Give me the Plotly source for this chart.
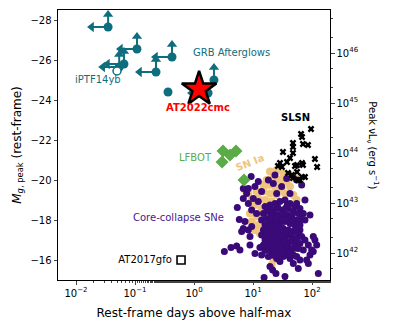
import math
import plotly.graph_objects as go

# ---- data ----
# GRB afterglows: rest-frame days, peak g mag, limit flags
grb_t = [0.035, 0.108, 0.065, 0.054, 0.227, 0.424, 0.363, 2.18, 1.73]
grb_m = [-27.65, -26.55, -25.8, -25.65, -25.4, -26.15, -24.4, -25.0, -24.35]
grb_tlim = [True, True, True, True, True, True, False, False, True]
grb_mlim = [True, True, True, True, True, True, False, True, False]

iptf_t = [0.0496]
iptf_m = [-25.45]

cmc_t = [1.22]
cmc_m = [-24.55]

gfo_t = [0.603]
gfo_m = [-16.0]

lfbot_t = [3.1, 4.07, 5.15, 2.99, 7.03]
lfbot_m = [-21.45, -21.25, -21.45, -20.9, -20.0]

slsn_t = [96.2, 65.2, 67.8, 70.3, 85.5, 47.6, 47.6, 32.2, 47.6, 42.4, 37.7, 28.7, 31.0, 67.8,
          70.3, 51.5, 112, 122, 45.8, 47.6, 57.9, 67.8, 55.7, 39.2, 26.5, 62.7, 76.0, 55.7]
slsn_m = [-22.55, -22.3, -22.15, -21.8, -21.75, -21.85, -21.65, -21.4, -21.35, -21.1, -20.9,
          -20.85, -20.65, -20.85, -20.75, -20.7, -21.05, -20.65, -20.25, -20.1, -20.0, -20.15,
          -20.4, -20.35, -20.7, -20.0, -20.15, -20.75]

snia_t = [19.4, 25.2, 32.6, 42.4, 51.5, 22.1, 28.6, 37.2, 18.2, 23.6, 30.6, 42.4, 15.0, 19.4,
          25.2, 34.8, 48.2, 12.3, 16.0, 20.7, 54.9, 10.8, 14.0, 54.9, 8.89, 11.5, 9.49, 12.3,
          10.8, 13.1, 16.0, 8.33, 7.31, 11.5, 9.49, 20.7, 22.1, 45.2, 51.5, 17.0, 25.2, 15.0]
snia_m = [-20.42, -20.5, -20.33, -20.25, -20.08, -20.08, -20.0, -19.92, -19.75, -19.67, -19.58,
          -19.67, -19.42, -19.33, -19.25, -19.33, -19.25, -19.08, -19.0, -18.92, -19.0, -18.75,
          -18.58, -18.5, -18.33, -18.17, -17.92, -17.75, -17.5, -17.33, -17.17, -19.33, -19.5,
          -19.42, -19.0, -15.75, -16.0, -17.58, -16.58, -20.0, -19.42, -19.75]

ccsn_t = [
    # scattered
    9.3, 6.85, 10.8, 7.8, 14.0, 18.2, 23.6, 37.2, 54.9, 66.8, 42.4, 30.6, 25.2, 22.1, 12.3,
    8.33, 10.1, 6.85, 8.33, 12.3, 9.49, 11.5, 6.85, 8.33, 6.42, 7.31, 9.49, 5.42, 5.86, 8.89,
    3.27, 4.24, 5.28, 6.01, 8.89, 10.8, 13.1, 16.0, 20.7, 19.4, 21.5, 24.5, 15.4, 34.8, 58.6,
    42.4, 39.7, 54.9, 62.5, 81.1, 92.4, 105, 112, 105, 120, 128, 86.6, 76.0, 62.5, 76.0, 71.2,
    92.4, 54.9, 76.0, 98.6, 71.2, 48.2, 28.6, 25.2, 18.2, 14.0, 48.2, 86.6,
    # dense core
    16.0, 19.4, 23.6, 28.6, 34.8, 42.4, 51.5, 62.5,
    15.0, 18.2, 22.1, 26.9, 32.6, 39.7, 48.2, 58.6, 66.8,
    14.0, 17.0, 20.7, 25.2, 30.6, 37.2, 45.2, 54.9,
    16.0, 19.4, 23.6, 28.6, 34.8, 42.4, 51.5, 62.5,
    15.0, 18.2, 22.1, 26.9, 32.6, 39.7, 48.2, 58.6,
    14.0, 17.0, 20.7, 25.2, 30.6, 37.2, 45.2, 54.9, 66.8,
    16.0, 19.4, 23.6, 28.6, 34.8, 42.4, 51.5, 62.5,
    15.0, 18.2, 22.1, 26.9, 32.6, 39.7, 48.2, 58.6,
    19.4, 23.6, 28.6, 34.8, 42.4, 26.9, 32.6, 22.1,
    17.5, 25.8, 38.2, 21.2, 31.4, 46.4, 18.7, 27.5, 40.7, 60.1, 17.5, 25.8, 38.2, 52.8,
    21.2, 31.4, 46.4, 17.5, 25.8, 38.2, 21.2, 31.4, 38.2,
    20.0, 24.0, 29.5, 35.5, 27.0, 33.0, 21.5, 30.0, 36.0, 44.0, 24.5, 29.0, 34.0, 41.0,
]
ccsn_m = [
    -20.17, -19.58, -19.67, -19.33, -19.42, -20.0, -20.25, -20.08, -20.0, -19.75, -19.33,
    -19.67, -19.33, -19.83, -19.92, -19.58, -19.08, -19.08, -18.83, -18.92, -18.5, -18.33,
    -17.58, -17.5, -17.42, -17.92, -17.67, -18.62, -18.03, -17.17,
    -16.42, -16.63, -16.7, -16.5, -16.75, -16.33, -16.63, -16.47, -16.25, -15.67, -15.5,
    -15.33, -15.13, -15.17, -15.58, -16.08, -16.25, -16.17, -16.0, -16.0, -16.25, -16.42,
    -17.0, -17.17, -16.75, -15.33, -16.75, -17.0, -17.5, -18.0, -18.33, -18.25, -18.83,
    -19.0, -16.5, -16.5, -16.25, -15.92, -16.08, -16.17, -16.25, -15.83, -15.83,
    -18.67, -18.75, -18.83, -18.92, -19.0, -18.83, -18.67, -18.58,
    -18.33, -18.42, -18.5, -18.58, -18.5, -18.58, -18.42, -18.33, -18.08,
    -18.0, -18.08, -18.17, -18.25, -18.17, -18.25, -18.17, -18.0,
    -17.75, -17.83, -17.92, -17.83, -17.92, -17.83, -17.75, -17.75,
    -17.5, -17.58, -17.58, -17.5, -17.58, -17.5, -17.42, -17.33,
    -17.25, -17.25, -17.33, -17.25, -17.25, -17.25, -17.17, -17.08, -17.17,
    -17.0, -17.0, -17.0, -17.0, -17.0, -16.92, -16.83, -16.83,
    -16.75, -16.75, -16.75, -16.75, -16.67, -16.67, -16.58, -16.58,
    -16.5, -16.5, -16.47, -16.42, -16.42, -16.25, -16.17, -16.25,
    -18.53, -18.7, -18.75, -18.3, -18.33, -18.3, -17.97, -18.03, -18.03, -17.92, -17.37,
    -17.42, -17.37, -17.53, -17.13, -17.13, -17.0, -16.87, -16.87, -16.83, -16.58, -16.58,
    -16.25,
    -18.1, -17.7, -17.65, -17.4, -17.1, -16.9, -16.6, -16.35, -18.6, -17.9, -18.1, -17.2,
    -16.95, -16.3,
]

x_tickvals = [0.01, 0.1, 1, 10, 100]
x_ticktext = ["10<sup>−2</sup>", "10<sup>−1</sup>", "10<sup>0</sup>", "10<sup>1</sup>", "10<sup>2</sup>"]
y_tickvals = [-28, -26, -24, -22, -20, -18, -16]
lum_tickvals = [1e42, 1e43, 1e44, 1e45, 1e46]
lum_ticktext = ["10<sup>42</sup>", "10<sup>43</sup>", "10<sup>44</sup>", "10<sup>45</sup>", "10<sup>46</sup>"]

TEAL = "#0f6e7e"
PURPLE = "#3a0a78"
ORANGE = "#efc47c"
GREEN = "#5bab47"
FONT = "DejaVu Sans"

# arrow geometry for GRB limits
arrow_dex = 0.28
arrow_mag = 0.62

fig = go.Figure()

fig.add_trace(go.Scatter(x=snia_t, y=snia_m, mode="markers",
                         marker=dict(color=ORANGE, size=8, line=dict(width=0))))
fig.add_trace(go.Scatter(x=ccsn_t, y=ccsn_m, mode="markers",
                         marker=dict(color=PURPLE, size=7, line=dict(width=0))))
fig.add_trace(go.Scatter(x=slsn_t, y=slsn_m, mode="markers",
                         marker=dict(color="black", symbol="x", size=6, line=dict(width=0))))
fig.add_trace(go.Scatter(x=lfbot_t, y=lfbot_m, mode="markers",
                         marker=dict(color=GREEN, symbol="diamond", size=10, line=dict(width=0))))

# GRB limit arrows
ax, ay, hx, hy = [], [], [], []
ux, uy, vx, vy = [], [], [], []
for t, m, tl, ml in zip(grb_t, grb_m, grb_tlim, grb_mlim):
    if tl:
        tip = t * 10 ** (-arrow_dex)
        ax += [t, tip, None]
        ay += [m, m, None]
        hx.append(tip)
        hy.append(m)
    if ml:
        ux += [t, t, None]
        uy += [m, m - arrow_mag, None]
        vx.append(t)
        vy.append(m - arrow_mag)
fig.add_trace(go.Scatter(x=ax + ux, y=ay + uy, mode="lines",
                         line=dict(color=TEAL, width=2)))
fig.add_trace(go.Scatter(x=hx, y=hy, mode="markers",
                         marker=dict(color=TEAL, symbol="triangle-left", size=9, line=dict(width=0))))
fig.add_trace(go.Scatter(x=vx, y=vy, mode="markers",
                         marker=dict(color=TEAL, symbol="triangle-up", size=9, line=dict(width=0))))
fig.add_trace(go.Scatter(x=grb_t, y=grb_m, mode="markers",
                         marker=dict(color=TEAL, size=9, line=dict(width=0))))
fig.add_trace(go.Scatter(x=iptf_t, y=iptf_m, mode="markers",
                         marker=dict(color="white", size=8, line=dict(color=TEAL, width=1.5))))

fig.add_trace(go.Scatter(x=gfo_t, y=gfo_m, mode="markers+text", text=["AT2017gfo "],
                         textposition="middle left", textfont=dict(color="black", size=10, family=FONT),
                         marker=dict(color="white", symbol="square", size=8,
                                     line=dict(color="black", width=1.6))))

fig.add_trace(go.Scatter(x=cmc_t, y=cmc_m, mode="markers",
                         marker=dict(color="red", symbol="star", size=26,
                                     line=dict(color="black", width=2.5))))

# dummy trace on the luminosity axis
fig.add_trace(go.Scatter(x=[1], y=[1e44], yaxis="y2", mode="markers",
                         marker=dict(opacity=0), hoverinfo="skip"))

labels = [
    ("GRB Afterglows", 4.24, -26.4, TEAL, False, 0),
    ("iPTF14yb", 0.0236, -25.05, TEAL, False, 0),
    ("AT2022cmc", 1.17, -23.65, "red", True, 0),
    ("SLSN", 51.5, -23.15, "black", True, 0),
    ("LFBOT", 1.08, -21.15, GREEN, False, 0),
    ("SN Ia", 8.9, -20.9, ORANGE, True, -22),
    ("Core-collapse SNe", 0.536, -18.15, "#4a1a8e", False, 0),
]
for txt, lx, ly, col, bold, ang in labels:
    fig.add_annotation(x=math.log10(lx), y=ly, text=f"<b>{txt}</b>" if bold else txt,
                       showarrow=False, textangle=ang,
                       font=dict(color=col, size=10, family=FONT))

fig.add_annotation(xref="paper", yref="paper", x=1.19, y=0.5, showarrow=False, textangle=90,
                   text="Peak νL<sub>ν</sub> (erg s<sup>−1</sup>)",
                   font=dict(color="black", size=10, family=FONT))

# page body adds an 8px margin, so the figure is drawn 8px smaller
fig.update_layout(
    width=385, height=318,
    margin=dict(l=50, r=63, t=2, b=46),
    plot_bgcolor="white", paper_bgcolor="white",
    showlegend=False,
    font=dict(family=FONT, size=10, color="black"),
    xaxis=dict(type="log", range=[-2.305, 2.305], tickvals=x_tickvals, ticktext=x_ticktext,
               ticks="outside", ticklen=3.5, tickwidth=0.8, showgrid=False, zeroline=False,
               showline=True, linecolor="black", linewidth=1, mirror=True, automargin=False,
               minor=dict(ticks="outside", ticklen=2, tickwidth=0.6, showgrid=False),
               title=dict(text="Rest-frame days above half-max", standoff=11)),
    yaxis=dict(range=[-15, -28.5], tickvals=y_tickvals, automargin=False,
               ticks="outside", ticklen=3.5, tickwidth=0.8, showgrid=False, zeroline=False,
               showline=True, linecolor="black", linewidth=1, mirror=True,
               title=dict(text="<i>M</i><sub><i>g</i>, peak</sub> (rest-frame)", standoff=6)),
    yaxis2=dict(type="log", overlaying="y", side="right", range=[41.46, 46.86],
                tickvals=lum_tickvals, ticktext=lum_ticktext, automargin=False,
                ticks="outside", ticklen=3.5, tickwidth=0.8, showgrid=False, zeroline=False,
                showline=True, linecolor="black", linewidth=1,
                minor=dict(ticks="outside", ticklen=2, tickwidth=0.6, showgrid=False)),
)

fig.write_html("out.html")
